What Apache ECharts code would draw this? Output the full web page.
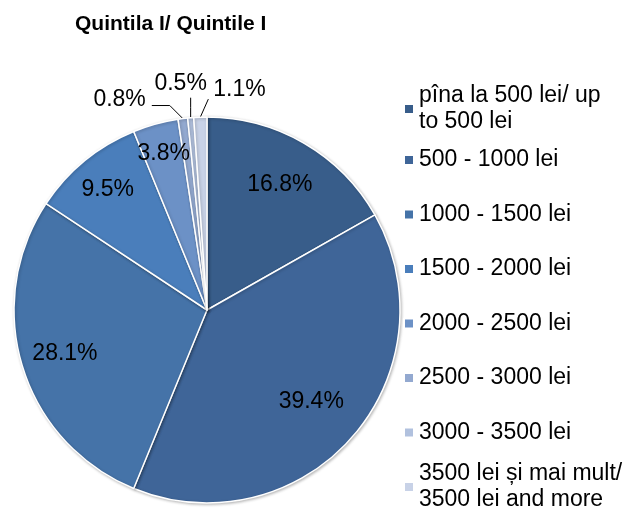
<!DOCTYPE html>
<html>
<head>
<meta charset="utf-8">
<script src="https://cdn.jsdelivr.net/npm/echarts@6/dist/echarts.min.js"></script>
<style>
  html, body { margin: 0; padding: 0; background: #fff; }
  #chart { width: 633px; height: 524px; }
</style>
</head>
<body>
<div id="chart"></div>
<script>
// Income brackets (monthly, lei) and their share of households in quintile I, %
const titleText = 'Quintila I/ Quintile I';
const categories = [
  'pîna la 500 lei/ up\nto 500 lei',
  '500 - 1000 lei',
  '1000 - 1500 lei',
  '1500 - 2000 lei',
  '2000 - 2500 lei',
  '2500 - 3000 lei',
  '3000 - 3500 lei',
  '3500 lei și mai mult/\n3500 lei and more'
];
const shares = [16.8, 39.4, 28.1, 9.5, 3.8, 0.8, 0.5, 1.1];

// Styling
const FONT = '"Liberation Sans", Arial, Helvetica, sans-serif';
const colors = ['#385D8A', '#3F6598', '#4573A8', '#4A7EBB', '#6C91C6', '#93A9D0', '#B1C1DE', '#C8D2E7'];
const CX = 207, CY = 310, R = 193;
// radial placement of in-slice labels, as a fraction of the radius
const insideRadius = [0.75, 0.72, 0.77, 0.81, 0.84];
// leader-line geometry for the thin slices: elbow, end and label offsets from the rim point
const outsideLabel = {
  5: { elbow: [-13, -13], end: [-31, -13], text: [-37, -19], align: 'right' },
  6: { elbow: [0, -10], end: [0, -20], text: [-10, -34], align: 'center' },
  7: { elbow: [4, -9], end: [8, -18], text: [13, -27], align: 'left' }
};

const total = shares.reduce((a, b) => a + b, 0);
const midAngles = [];
{
  let acc = 0;
  shares.forEach(v => {
    midAngles.push((acc + v / 2) / total * Math.PI * 2);
    acc += v;
  });
}
function polar(i, rho) {
  const t = midAngles[i];
  return [CX + rho * Math.sin(t), CY - rho * Math.cos(t)];
}

const chart = echarts.init(document.getElementById('chart'), null, { renderer: 'canvas' });

// one legend block per entry so each sits on its own row
const legendCenters = [109, 160, 214.5, 269, 323.5, 378, 432.5, 487];
const legends = categories.map((name, i) => {
  const twoLine = name.indexOf('\n') >= 0;
  return {
    show: true,
    orient: 'vertical',
    left: 403,
    top: twoLine ? legendCenters[i] - 39 : legendCenters[i] - 13,
    padding: 0,
    data: [name],
    icon: 'rect',
    itemWidth: 10,
    itemHeight: 10,
    selectedMode: false,
    textStyle: {
      color: '#000',
      fontFamily: FONT,
      fontSize: 23,
      lineHeight: 26,
      padding: twoLine ? [26, 0, 0, 0] : 0
    }
  };
});

const option = {
  animation: false,
  backgroundColor: '#fff',
  color: colors,
  title: {
    text: titleText,
    left: 75,
    top: 13,
    padding: 0,
    textStyle: { fontFamily: FONT, fontSize: 21, fontWeight: 'bold', color: '#000', lineHeight: 22 }
  },
  legend: legends,
  series: [{
    type: 'pie',
    center: [CX, CY],
    radius: R,
    startAngle: 90,
    clockwise: true,
    avoidLabelOverlap: false,
    itemStyle: {
      borderColor: '#fff',
      borderWidth: 1.5,
      shadowBlur: 3,
      shadowOffsetX: 1,
      shadowOffsetY: 1,
      shadowColor: 'rgba(0,0,0,0.25)'
    },
    label: {
      show: true,
      color: '#000',
      fontFamily: FONT,
      fontSize: 23,
      formatter: p => p.value.toFixed(1) + '%'
    },
    labelLine: {
      show: true,
      lineStyle: { color: '#000', width: 1 }
    },
    labelLayout: function (params) {
      const i = params.dataIndex;
      if (outsideLabel[i]) {
        const o = outsideLabel[i];
        const e = polar(i, R);
        return {
          x: e[0] + o.text[0],
          y: e[1] + o.text[1],
          align: o.align,
          verticalAlign: 'middle',
          labelLinePoints: [
            [e[0], e[1]],
            [e[0] + o.elbow[0], e[1] + o.elbow[1]],
            [e[0] + o.end[0], e[1] + o.end[1]]
          ]
        };
      }
      const p = polar(i, R * insideRadius[i]);
      return { x: p[0], y: p[1], align: 'center', verticalAlign: 'middle' };
    },
    emphasis: { disabled: true },
    data: categories.map((name, i) => ({
      name: name,
      value: shares[i],
      label: { position: outsideLabel[i] ? 'outside' : 'inside' },
      labelLine: { show: !!outsideLabel[i] }
    }))
  }]
};

chart.setOption(option);
</script>
</body>
</html>
